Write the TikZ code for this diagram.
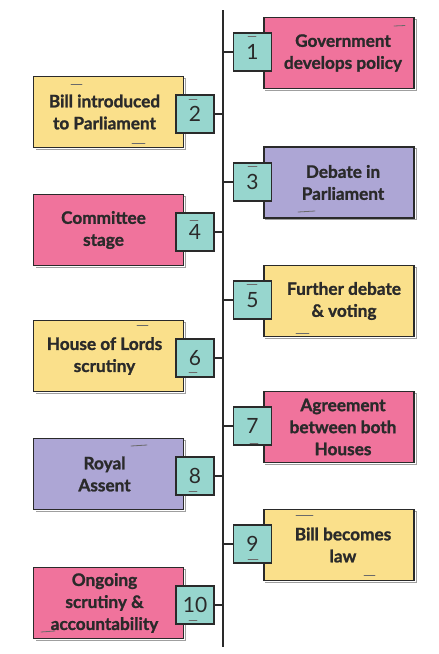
\documentclass[tikz,border=0pt]{standalone}
\usepackage{fontspec}
\setmainfont{Lato}[BoldFeatures={FakeBold=1.3}]
\definecolor{ink}{HTML}{2A2A2A}
\definecolor{pinkc}{HTML}{F0739C}
\definecolor{yellowc}{HTML}{FAE08B}
\definecolor{purplec}{HTML}{ADA6D5}
\definecolor{tealc}{HTML}{97D6CE}
\begin{document}
\begin{tikzpicture}[x=1pt,y=-1pt,
  note/.style={draw=ink, line width=1.1pt, minimum width=150pt, minimum height=71pt,
    inner sep=0pt},
  lbl/.style={align=center, inner sep=0pt, text=ink,
    font=\bfseries\fontsize{17.2}{22}\selectfont},
  shade/.style={draw=ink!45, line width=1pt},
  num/.style={draw=ink, fill=tealc, line width=1.1pt, minimum size=38pt, inner sep=0pt,
    text=ink, font=\fontsize{21}{21}\selectfont},
  link/.style={draw=ink, line width=1.1pt},
  deco/.style={draw=ink!70, line width=0.8pt, line cap=round}]
\useasboundingbox (0,0) rectangle (439,654);
% timeline
\coordinate (top) at (223,10);
\coordinate (bot) at (223,647);
\draw[link] (top) -- (bot);
% right side notes
\foreach \nm/\y/\c in {b1/53/pinkc, b3/182.5/purplec, b5/301/yellowc, b7/427/pinkc, b9/545/yellowc}{
  \draw[shade] (265,\y-34) -- (416,\y-34) -- (416,\y+37) -- (265,\y+37);
  \node[note, fill=\c] (\nm) at (339,\y) {};
}
% left side notes
\foreach \nm/\y/\c in {b2/112/yellowc, b4/230/pinkc, b6/356/yellowc, b8/474/purplec, b10/603/pinkc}{
  \draw[shade] (36,\y-34) -- (185,\y-34) -- (185,\y+37) -- (36,\y+37);
  \node[note, fill=\c] (\nm) at (108.5,\y) {};
}
% labels
\node[lbl] (t1) at ([xshift=4pt]b1.center) {Government\\develops policy};
\node[lbl] (t3) at ([xshift=4pt]b3.center) {Debate in\\Parliament};
\node[lbl] (t5) at ([xshift=5pt]b5.center) {Further debate\\\& voting};
\node[lbl] (t7) at ([xshift=4pt]b7.center) {Agreement\\between both\\Houses};
\node[lbl] (t9) at ([xshift=4pt]b9.center) {Bill becomes\\law};
\node[lbl] (t2) at ([xshift=-4pt]b2.center) {Bill introduced\\to Parliament};
\node[lbl] (t4) at ([xshift=-5pt]b4.center) {Committee\\stage};
\node[lbl] (t6) at ([xshift=-4pt]b6.center) {House of Lords\\scrutiny};
\node[lbl] (t8) at ([xshift=-4pt]b8.center) {Royal\\Assent};
\node[lbl] (t10) at ([xshift=-4pt]b10.center) {Ongoing\\scrutiny \&\\accountability};
% decorative marks on notes
\draw[deco] (394,26) -- (405,25.5);
\draw[deco] (71,84) -- (82,84);
\draw[deco] (132,143) -- (145,143);
\draw[deco] (298,212) -- (315,211);
\draw[deco] (296,333) -- (309,333);
\draw[deco] (137,325) -- (148,325);
\draw[deco] (131,446) -- (147,445);
\draw[deco] (296,515) -- (313,515);
\draw[deco] (364,575) -- (375,575);
\draw[deco] (41,632) -- (55,631);
% number squares
\node[num] (n1) at (252.5,52) {1};
\node[num] (n3) at (252.5,182) {3};
\node[num] (n5) at (252.5,300) {5};
\node[num] (n7) at (252.5,426) {7};
\node[num] (n9) at (252.5,544) {9};
\node[num] (n2) at (195,114) {2};
\node[num] (n4) at (195,232) {4};
\node[num] (n6) at (195,358) {6};
\node[num] (n8) at (195,476) {8};
\node[num] (n10) at (195,605) {10};
% decorative marks on squares
\draw[deco] (248,36) -- (256,36);
\draw[deco] (189,99) -- (197,99);
\draw[deco] (248,166.5) -- (257,166.5);
\draw[deco] (190,220) -- (198,220);
\draw[deco] (247,284) -- (257,284);
\draw[deco] (189,372) -- (197,372);
\draw[deco] (250,443) -- (258,443);
\draw[deco] (189,491) -- (197,491);
\draw[deco] (248,559) -- (258,559);
\draw[deco] (189,620) -- (197,620);
% connectors
\foreach \n in {1,3,5,7,9,2,4,6,8,10}{
  \coordinate (c\n) at (top |- n\n);
}
\draw[link] (c1) -- (n1.west);
\draw[link] (c3) -- (n3.west);
\draw[link] (c5) -- (n5.west);
\draw[link] (c7) -- (n7.west);
\draw[link] (c9) -- (n9.west);
\draw[link] (n2.east) -- (c2);
\draw[link] (n4.east) -- (c4);
\draw[link] (n6.east) -- (c6);
\draw[link] (n8.east) -- (c8);
\draw[link] (n10.east) -- (c10);
\end{tikzpicture}
\end{document}
